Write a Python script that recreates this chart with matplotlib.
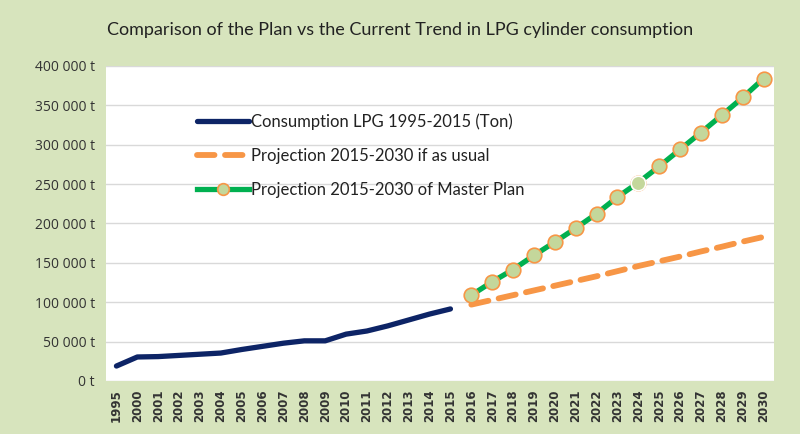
import matplotlib
matplotlib.use("Agg")
import matplotlib.pyplot as plt
from matplotlib.ticker import FuncFormatter

categories = ["1995"] + [str(y) for y in range(2000, 2031)]

hist_years = ["1995", "2000", "2001", "2002", "2003", "2004", "2005", "2006", "2007",
              "2008", "2009", "2010", "2011", "2012", "2013", "2014", "2015"]
hist_values = [19000, 30500, 31000, 32500, 34000, 35500, 40000, 44000, 48000,
               51000, 51000, 59500, 63500, 70000, 77500, 85000, 91500]

proj_years = [str(y) for y in range(2016, 2031)]
usual_values = [97000, 103000, 109000, 115000, 121000, 127000, 133000, 139500,
                146000, 152000, 158000, 164500, 170500, 177000, 183000]
plan_values = [109000, 126000, 141500, 159500, 176500, 194000, 212500, 233500,
               252000, 272500, 294000, 315500, 337500, 360000, 384000]

labels = ["Consumption LPG 1995-2015 (Ton)",
          "Projection 2015-2030 if as usual",
          "Projection 2015-2030 of Master Plan"]
title = "Comparison of the Plan vs the Current Trend in LPG cylinder consumption"

idx = {c: i for i, c in enumerate(categories)}
BG = "#D7E4BD"

fig = plt.figure(figsize=(8, 4.34), dpi=100, facecolor=BG)
ax = fig.add_axes([106/800, 1 - 381/434, (774-106)/800, (381-66)/434])
ax.set_facecolor("white")

hx = [idx[y] for y in hist_years]
px = [idx[y] for y in proj_years]

ax.plot(hx, hist_values, color="#0D2466", lw=3.8, solid_capstyle="round",
        label=labels[0], zorder=3)
ax.plot(px, usual_values, color="#F79646", lw=4.2, dashes=(3, 1.8),
        dash_capstyle="round", label=labels[1], zorder=3)
ax.plot(px, plan_values, color="#00B050", lw=3.8, marker="o", markersize=10.5,
        markerfacecolor="#C4D79B", markeredgecolor="#F79646", markeredgewidth=1.2,
        label=labels[2], zorder=4)
# 2024 marker drawn without the orange edge, as in the reference
i24 = proj_years.index("2024")
ax.plot([px[i24]], [plan_values[i24]], marker="o", markersize=10.5, ls="none",
        markerfacecolor="#C4D79B", markeredgecolor="white", markeredgewidth=1.2, zorder=5)

ax.set_xlim(-0.5, len(categories) - 0.5)
ax.set_ylim(0, 400000)
ax.set_yticks(range(0, 400001, 50000))
ax.yaxis.set_major_formatter(FuncFormatter(lambda v, p: f"{int(v):,} t".replace(",", " ")))
ax.set_xticks(range(len(categories)))
ax.set_xticklabels(categories, rotation=90, fontsize=8.5, fontweight="bold", color="#333333",
                   family="DejaVu Sans")
for t in ax.get_yticklabels():
    t.set_fontsize(10)
    t.set_color("#333333")
    t.set_family("Open Sans")
ax.grid(axis="y", color="#D9D9D9", lw=1)
ax.set_axisbelow(True)
ax.tick_params(length=0, pad=8)
ax.tick_params(axis="x", pad=6)
for s in ax.spines.values():
    s.set_visible(False)

leg = ax.legend(loc="upper left", bbox_to_anchor=((182-106)/668, (381-98)/315),
                frameon=False, handlelength=3.1, handletextpad=0.15, labelspacing=1.1,
                markerscale=0.8, prop={"family": "Lato", "size": 12})
for t in leg.get_texts():
    t.set_color("#222222")

fig.text(0.5, 1 - 30/434, title, ha="center", va="center", fontsize=13,
         family="Lato", color="#222222")

fig.savefig("out.png", dpi=100, facecolor=BG)
